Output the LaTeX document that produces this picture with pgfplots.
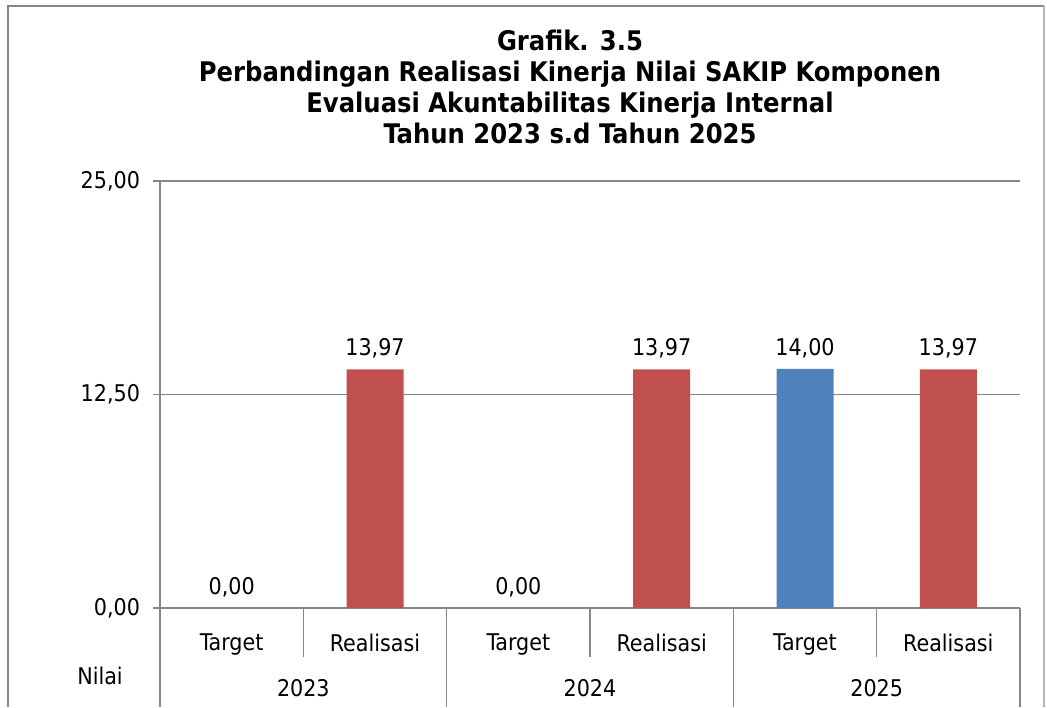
\documentclass[border=0pt]{standalone}
\usepackage{fontspec}
\setmainfont{DejaVu Sans Condensed}
\usepackage{pgfplots}
\pgfplotsset{compat=1.18}

\definecolor{excelblue}{HTML}{4F81BD}
\definecolor{excelred}{HTML}{C0504D}
\definecolor{axgray}{HTML}{868686}

\begin{document}
\begin{tikzpicture}
% 1 px of the reference = 0.5pt, origin at the lower left of the plot area
\useasboundingbox (-80pt,-49.5pt) rectangle (443.5pt,304pt);
\draw[axgray, line width=1.3pt] (-76pt,-49.5pt) -- (-76pt,301pt) -- (442pt,301pt);
\draw[axgray!60, line width=0.7pt] (442pt,301pt) -- (442pt,-49.5pt);

\node[font=\bfseries\fontsize{13.5}{15.5}\selectfont, align=center] at (205pt,260.5pt)
  {Grafik. 3.5\\Perbandingan Realisasi Kinerja Nilai SAKIP Komponen\\Evaluasi Akuntabilitas Kinerja Internal\\Tahun 2023 s.d Tahun 2025};

\begin{axis}[
  at={(0pt,0pt)}, anchor=south west,
  scale only axis, width=430pt, height=213.5pt,
  xmin=-0.5, xmax=5.5, ymin=0, ymax=25,
  axis x line*=bottom, axis y line*=left,
  axis line style={axgray, line width=0.8pt, -},
  xtick={0,...,5},
  xticklabels={Target,Realisasi,Target,Realisasi,Target,Realisasi},
  x tick style={draw=none},
  ytick={0,12.5,25},
  y tick style={axgray, line width=0.8pt},
  tick align=outside, major tick length=3.5pt,
  ymajorgrids, grid style={axgray, line width=0.8pt},
  tick label style={font=\fontsize{11.5}{13}\selectfont},
  xticklabel style={yshift=-6pt},
  yticklabel style={xshift=-3pt},
  /pgf/number format/.cd, use comma, fixed, fixed zerofill, precision=2, assume math mode=true,
  /pgfplots/.cd,
  nodes near coords,
  every node near coord/.append style={font=\fontsize{11.5}{13}\selectfont, yshift=2pt},
  clip=false,
]
\addplot[ybar, bar width=28.5pt, bar shift=0pt, fill=excelblue, draw=none]
  coordinates {(0,0) (2,0) (4,14.00)};
\addplot[ybar, bar width=28.5pt, bar shift=0pt, fill=excelred, draw=none]
  coordinates {(1,13.97) (3,13.97) (5,13.97)};

% category separators (two-level axis)
\foreach \s in {0.5,2.5,4.5}{
  \edef\tmp{\noexpand\draw[axgray, line width=0.8pt] (axis cs:\s,0) -- ++(0pt,-24.5pt);}\tmp
}
\foreach \s in {-0.5,1.5,3.5,5.5}{
  \edef\tmp{\noexpand\draw[axgray, line width=0.8pt] (axis cs:\s,0) -- ++(0pt,-49.5pt);}\tmp
}
\node[font=\fontsize{11.5}{13}\selectfont] at (axis cs:0.5,0) [yshift=-40pt] {2023};
\node[font=\fontsize{11.5}{13}\selectfont] at (axis cs:2.5,0) [yshift=-40pt] {2024};
\node[font=\fontsize{11.5}{13}\selectfont] at (axis cs:4.5,0) [yshift=-40pt] {2025};
\end{axis}

\node[font=\fontsize{11.5}{13}\selectfont] at (-30pt,-34pt) {Nilai};
\end{tikzpicture}
\end{document}
